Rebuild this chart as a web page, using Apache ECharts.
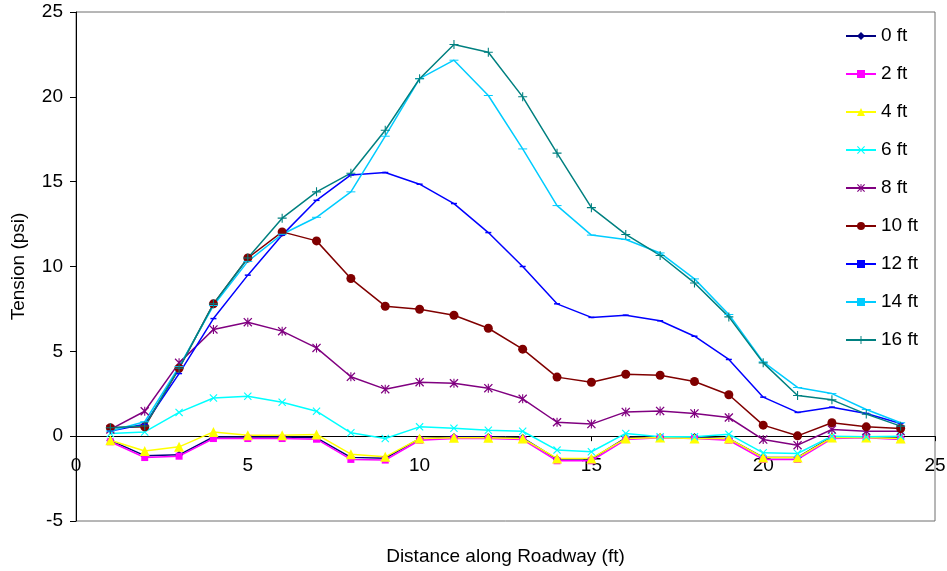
<!DOCTYPE html>
<html>
<head>
<meta charset="utf-8">
<script src="https://cdn.jsdelivr.net/npm/echarts@6/dist/echarts.min.js"></script>
<style>
html,body{margin:0;padding:0;background:#fff;}
#chart{width:947px;height:571px;}
</style>
</head>
<body>
<div id="chart"></div>
<script>
var distances = [1,2,3,4,5,6,7,8,9,10,11,12,13,14,15,16,17,18,19,20,21,22,23,24];
var seriesNames = ['0 ft','2 ft','4 ft','6 ft','8 ft','10 ft','12 ft','14 ft','16 ft'];
var t0  = [-0.25,-1.15,-1.1,-0.05,-0.05,-0.05,-0.1,-1.25,-1.3,-0.15,-0.05,-0.05,-0.1,-1.35,-1.35,-0.1,-0.05,-0.05,-0.15,-1.25,-1.25,-0.05,-0.05,-0.1];
var t2  = [-0.33,-1.26,-1.18,-0.14,-0.14,-0.14,-0.18,-1.37,-1.41,-0.24,-0.14,-0.14,-0.2,-1.45,-1.45,-0.2,-0.1,-0.14,-0.24,-1.37,-1.37,-0.14,-0.1,-0.2];
var t4  = [-0.24,-0.87,-0.63,0.25,0.06,0.06,0.1,-1.06,-1.22,-0.14,-0.1,-0.1,-0.14,-1.31,-1.31,-0.14,-0.08,-0.14,-0.14,-1.26,-1.26,-0.08,-0.08,-0.14];
var t6  = [0.16,0.25,1.4,2.25,2.35,2.0,1.47,0.2,-0.14,0.55,0.47,0.35,0.29,-0.82,-0.92,0.16,-0.04,-0.04,0.12,-0.98,-1.02,0.0,-0.04,0.0];
var t8  = [0.4,1.47,4.32,6.29,6.72,6.19,5.2,3.5,2.77,3.18,3.12,2.83,2.2,0.82,0.71,1.43,1.49,1.34,1.1,-0.2,-0.53,0.39,0.29,0.29];
var t10 = [0.5,0.55,4.0,7.8,10.5,12.04,11.51,9.29,7.66,7.48,7.13,6.36,5.13,3.48,3.18,3.65,3.59,3.22,2.44,0.65,0.02,0.79,0.55,0.45];
var t12 = [0.3,0.7,3.69,6.93,9.49,11.85,13.9,15.4,15.54,14.85,13.71,12.0,10.0,7.8,7.0,7.13,6.8,5.89,4.52,2.3,1.4,1.71,1.34,0.75];
var t14 = [0.3,0.85,4.1,7.7,10.3,11.9,12.9,14.4,17.68,21.07,22.16,20.08,16.93,13.59,11.85,11.59,10.8,9.27,7.17,4.38,2.87,2.51,1.57,0.79];
var t16 = [0.5,0.6,4.0,7.8,10.5,12.85,14.4,15.5,18.03,21.07,23.08,22.63,20.0,16.68,13.47,11.89,10.65,9.03,7.03,4.32,2.4,2.14,1.3,0.59];
var tensionSets = [t0,t2,t4,t6,t8,t10,t12,t14,t16];
var xTicks = [0,5,10,15,20,25];
var yTicks = [-5,0,5,10,15,20,25];

var FONT = 'Liberation Sans, Arial, sans-serif';
var colors = ['#000080','#FF00FF','#FFFF00','#00FFFF','#800080','#800000','#0000FF','#00CCFF','#008080'];
var xPath = 'M0,1L1,0L5,4L9,0L10,1L6,5L10,9L9,10L5,6L1,10L0,9L4,5Z';
var symbols = [
  {symbol:'diamond', size:8},
  {symbol:'rect', size:7},
  {symbol:'triangle', size:10},
  {symbol:'path://' + xPath, size:8},
  {symbol:'path://' + xPath + 'M4.4,0H5.6V10H4.4Z', size:9},
  {symbol:'circle', size:9},
  {symbol:'path://M0,0H6V3H0Z', size:[6,3]},
  {symbol:'path://M0,0H9V3H0Z', size:[9,3]},
  {symbol:'path://M4.4,0H5.6V4.4H10V5.6H5.6V10H4.4V5.6H0V4.4H4.4Z', size:9}
];

var series = seriesNames.map(function(name, i){
  return {
    name: name,
    type: 'line',
    data: distances.map(function(d, k){ return [d, tensionSets[i][k]]; }),
    symbol: symbols[i].symbol,
    symbolSize: symbols[i].size,
    symbolKeepAspect: true,
    showAllSymbol: true,
    lineStyle: {color: colors[i], width: 1.5},
    itemStyle: {color: colors[i], borderWidth: 0},
    emphasis: {disabled: true},
    animation: false
  };
});

var chart = echarts.init(document.getElementById('chart'), null, {renderer:'canvas'});
chart.setOption({
  animation: false,
  backgroundColor: '#fff',
  grid: {left: 76, right: 12, top: 12, bottom: 50, show: true, borderColor: '#6e6e6e', borderWidth: 1, containLabel: false, outerBoundsMode: 'none'},
  legend: {
    orient: 'vertical',
    left: 845,
    top: 26,
    padding: 0,
    itemWidth: 30,
    itemHeight: 10,
    itemGap: 18,
    data: seriesNames,
    textStyle: {fontFamily: FONT, fontSize: 19, color: '#000', lineHeight: 20},
    selectedMode: false
  },
  xAxis: {
    type: 'value',
    min: xTicks[0], max: xTicks[xTicks.length-1], interval: 5,
    axisLine: {onZero: true, lineStyle: {color: '#000', width: 1}},
    axisTick: {show: true, inside: false, length: 5, lineStyle: {color: '#000'}},
    axisLabel: {fontFamily: FONT, fontSize: 19, color: '#000', margin: -65},
    splitLine: {show: false},
    name: 'Distance along Roadway (ft)',
    nameLocation: 'middle',
    nameGap: 26,
    nameTextStyle: {fontFamily: FONT, fontSize: 19, color: '#000'}
  },
  yAxis: {
    type: 'value',
    min: yTicks[0], max: yTicks[yTicks.length-1], interval: 5,
    axisLine: {show: true, onZero: false, lineStyle: {color: '#000', width: 1}},
    axisTick: {show: true, inside: false, length: 6, lineStyle: {color: '#000'}},
    axisLabel: {fontFamily: FONT, fontSize: 19, color: '#000', margin: 13},
    splitLine: {show: false},
    name: 'Tension (psi)',
    nameLocation: 'middle',
    nameGap: 48,
    nameTextStyle: {fontFamily: FONT, fontSize: 19, color: '#000'}
  },
  series: series
});
</script>
</body>
</html>
